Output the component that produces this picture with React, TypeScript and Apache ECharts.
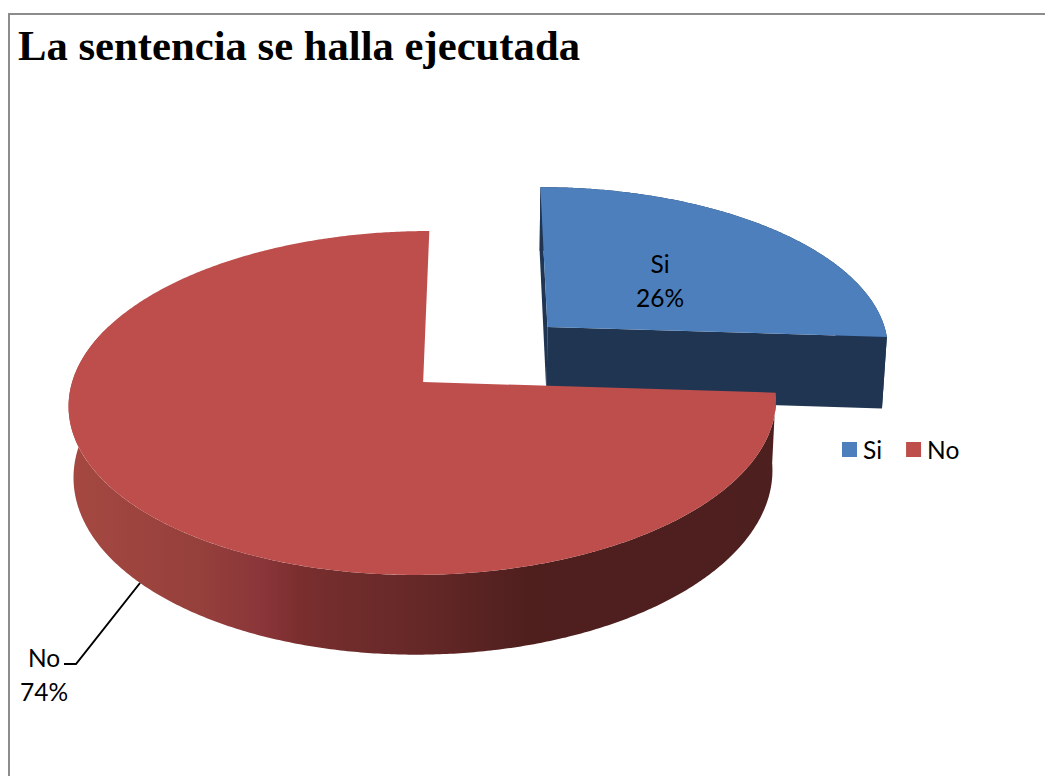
import React, { useEffect, useRef } from "react";
import * as echarts from "echarts";

const titleText = "La sentencia se halla ejecutada";
const categories = ["Si", "No"];
const sliceValues = [26, 74];
const sliceColors = ["#4C7FBC", "#BD4E4B"];
const wallColor = "#1F3551";

// Projection of the pie plane: perspective view, styling constants only
const view = { cx: 480, cy: 382, a: 351, b: 169.4, k: 0.122, depthScale: 0.988 };
const sliceDepths = [74, 70];
const sliceOffsets = [
  [0.2, 0.338],
  [-0.162, 0],
];
const sideStops = [
  { offset: 0, color: "#A64842" },
  { offset: 0.19, color: "#95403B" },
  { offset: 0.277, color: "#8A3539" },
  { offset: 0.33, color: "#7A2E2E" },
  { offset: 0.4, color: "#6F2C2B" },
  { offset: 0.5, color: "#652827" },
  { offset: 0.65, color: "#4F1F1E" },
  { offset: 1, color: "#4D1F1E" },
];
const labelPositions = [
  { x: 660, y: 263 },
  { x: 44, y: 657 },
];
const leaderLine = [
  [64, 664],
  [76, 664],
  [140, 583],
];
const lastVisibleSideAngle = 290;
const labelFont = "24.5px Lato, Carlito, sans-serif";

const total = sliceValues.reduce((s, v) => s + v, 0);

function project(ox: number, oy: number, deg: number, radius: number, depth: number) {
  const t = (deg * Math.PI) / 180;
  const x = ox + radius * Math.sin(t);
  const y = oy + radius * Math.cos(t);
  const w = 1 + view.k * y;
  let px = view.cx + (view.a * x) / w;
  let py = view.cy - (view.b * y) / w;
  if (depth > 0) {
    px = view.cx + (px - view.cx) * view.depthScale;
    py += depth / w;
  }
  return [px, py];
}

function arcPoints(ox: number, oy: number, from: number, to: number, depth: number) {
  const pts: number[][] = [];
  const n = Math.ceil(Math.abs(to - from) * 2);
  for (let i = 0; i <= n; i++) pts.push(project(ox, oy, from + ((to - from) * i) / n, 1, depth));
  return pts;
}

function makeRenderItem(index: number) {
  return (_params: any, api: any) => {
    const value = api.value(0);
    const before = sliceValues.slice(0, index).reduce((s, v) => s + v, 0);
    const from = (before / total) * 360;
    const to = from + (value / total) * 360;
    const depth = sliceDepths[index];
    const [ox, oy] = sliceOffsets[index];
    const topArc = arcPoints(ox, oy, from, to, 0);
    const apexTop = project(ox, oy, 0, 0, 0);
    const apexLow = project(ox, oy, 0, 0, depth);
    const pos = labelPositions[index];
    const percent = `${Math.round((value / total) * 100)}%`;
    const children: any[] = [];
    if (index === 1) {
      const sideEnd = Math.min(to, lastVisibleSideAngle);
      const upper = arcPoints(ox, oy, from, sideEnd, 0);
      const lower = arcPoints(ox, oy, from, sideEnd, depth);
      children.push({
        type: "polygon",
        shape: { points: [...upper, ...lower.reverse()] },
        style: { fill: new echarts.graphic.LinearGradient(67, 0, 775, 0, sideStops, true) },
      });
    } else {
      const lowArc = arcPoints(ox, oy, from, to, depth);
      children.push(
        { type: "polygon", shape: { points: [...topArc, ...lowArc.slice().reverse()] }, style: { fill: wallColor } },
        { type: "polygon", shape: { points: [apexTop, topArc[0], lowArc[0], apexLow] }, style: { fill: wallColor } },
        {
          type: "polygon",
          shape: { points: [apexTop, topArc[topArc.length - 1], lowArc[lowArc.length - 1], apexLow] },
          style: { fill: wallColor },
        }
      );
    }
    children.push(
      { type: "polygon", shape: { points: [apexTop, ...topArc] }, style: { fill: sliceColors[index] } },
      {
        type: "text",
        style: { text: categories[index], x: pos.x, y: pos.y, font: labelFont, fill: "#000", align: "center", verticalAlign: "middle" },
      },
      {
        type: "text",
        style: { text: percent, x: pos.x, y: pos.y + 34, font: labelFont, fill: "#000", align: "center", verticalAlign: "middle" },
      }
    );
    if (index === 1) {
      children.push({
        type: "polyline",
        shape: { points: leaderLine },
        style: { stroke: "#000", lineWidth: 2, fill: "none" },
      });
    }
    return { type: "group", children };
  };
}

export default function App() {
  const ref = useRef<HTMLDivElement>(null);
  useEffect(() => {
    document.body.style.margin = "0";
    document.body.style.overflow = "hidden";
    const chart = echarts.init(ref.current!, null, { renderer: "svg" });
    chart.setOption({
      animation: false,
      backgroundColor: "#fff",
      title: {
        text: titleText,
        left: 18,
        top: 24,
        padding: 0,
        textStyle: { fontFamily: "'Liberation Serif', serif", fontWeight: "bold", fontSize: 42.7, color: "#000" },
      },
      legend: {
        left: 842,
        top: 437,
        padding: 0,
        icon: "rect",
        itemWidth: 15,
        itemHeight: 15,
        itemGap: 24,
        selectedMode: false,
        data: categories,
        textStyle: { fontFamily: "Lato, Carlito, sans-serif", fontSize: 24.5, color: "#000", padding: [0, 0, 0, 1] },
      },
      graphic: [
        {
          type: "rect",
          silent: true,
          shape: { x: 9, y: 14, width: 1100, height: 820 },
          style: { fill: "none", stroke: "#8C8C8C", lineWidth: 2 },
        },
      ],
      series: categories.map((name, i) => ({
        type: "custom",
        name,
        coordinateSystem: "none",
        silent: true,
        itemStyle: { color: sliceColors[i] },
        renderItem: makeRenderItem(i),
        data: [[sliceValues[i]]],
      })),
    });
    return () => chart.dispose();
  }, []);
  return <div ref={ref} style={{ width: 1045, height: 776 }} />;
}
